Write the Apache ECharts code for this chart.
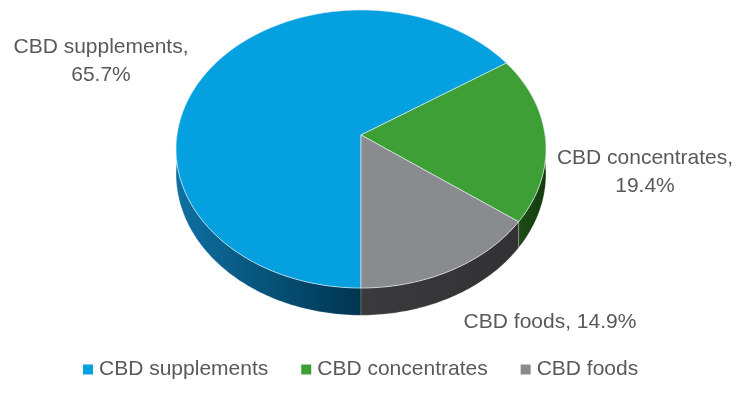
<!DOCTYPE html>
<html><head><meta charset="utf-8">
<script src="https://cdn.jsdelivr.net/npm/echarts@6/dist/echarts.min.js"></script>
<style>html,body{margin:0;padding:0;background:#fff}#c{width:737px;height:407px}</style>
</head><body><div id="c"></div>
<script>
// ---- data ----
const categories = ['CBD supplements', 'CBD concentrates', 'CBD foods'];
const shares = [65.7, 19.4, 14.9];

// ---- styling / layout ----
const topColors = ['#04a0e0', '#3f9f37', '#898b8e'];
const sideColors = [['#0e70a2', '#00344f'], ['#1d4c16', '#143a0f'], ['#3a3a3c', '#323234']];
const labelPos = [[101, 61], [645, 172], [550, 322]];
const FONT = 'Liberation Sans, Arial, sans-serif';
const TXT = '#595959';
const CX = 361, CY = 135, RX = 184, A = 137.6, K = -0.1007, DEPTH = 24.5;
const START = 180; // degrees clockwise from top

const total = shares.reduce((s, v) => s + v, 0);
function proj(deg, low) {
  const t = deg * Math.PI / 180;
  const u = Math.sin(t), v = -Math.cos(t);
  const den = 1 + K * v;
  return [CX + RX * u / den, CY + A * v / den + (low ? DEPTH / den : 0)];
}
function arc(a, b, low) {
  const pts = [];
  const n = Math.max(2, Math.ceil(Math.abs(b - a) / 1));
  for (let i = 0; i <= n; i++) pts.push(proj(a + (b - a) * i / n, low));
  return pts;
}
function makeRender(idx) {
  return function (params, api) {
    const val = api.value(0);
    let before = 0;
    for (let j = 0; j < idx; j++) before += shares[j];
    const a = START + before / total * 360;
    const b = a + val / total * 360;
    const children = [];
    // outer walls visible on the front half
    [[90, 270], [450, 630]].forEach(([lo, hi]) => {
      const s = Math.max(a, lo), e = Math.min(b, hi);
      if (e > s) {
        const topPts = arc(s, e, false);
        const botPts = arc(s, e, true).reverse();
        children.push({
          type: 'polygon', z2: 1,
          shape: { points: topPts.concat(botPts) },
          style: {
            fill: new echarts.graphic.LinearGradient(0, 0, 1, 0, [
              { offset: 0, color: sideColors[idx][0] },
              { offset: 1, color: sideColors[idx][1] }
            ]),
            stroke: 'rgba(255,255,255,0.35)', lineWidth: 0.6
          }
        });
      }
    });
    const facePts = [[CX, CY]].concat(arc(a, b, false));
    children.push({
      type: 'polygon', z2: 10,
      shape: { points: facePts },
      style: { fill: topColors[idx], stroke: 'rgba(235,245,250,0.75)', lineWidth: 0.8 }
    });
    const lines = idx === 2 ? categories[idx] + ', ' + val + '%' : categories[idx] + ',\n' + val + '%';
    children.push({
      type: 'text', z2: 20,
      x: labelPos[idx][0], y: labelPos[idx][1],
      style: {
        text: lines, fill: TXT, font: '21px ' + FONT,
        align: 'center', verticalAlign: 'middle', lineHeight: 28
      }
    });
    return { type: 'group', children };
  };
}

const chart = echarts.init(document.getElementById('c'), null, { renderer: 'canvas' });
chart.setOption({
  animation: false,
  legend: {
    bottom: 22, left: 78, icon: 'rect', itemWidth: 10, itemHeight: 10, itemGap: 33,
    textStyle: { fontSize: 21, color: TXT, fontFamily: FONT, padding: [0, 0, 0, 1] },
    data: categories
  },
  series: categories.map((name, i) => ({
    type: 'custom', name, coordinateSystem: 'none',
    itemStyle: { color: topColors[i] },
    data: [[shares[i]]],
    renderItem: makeRender(i),
    silent: true
  }))
});
</script></body></html>
